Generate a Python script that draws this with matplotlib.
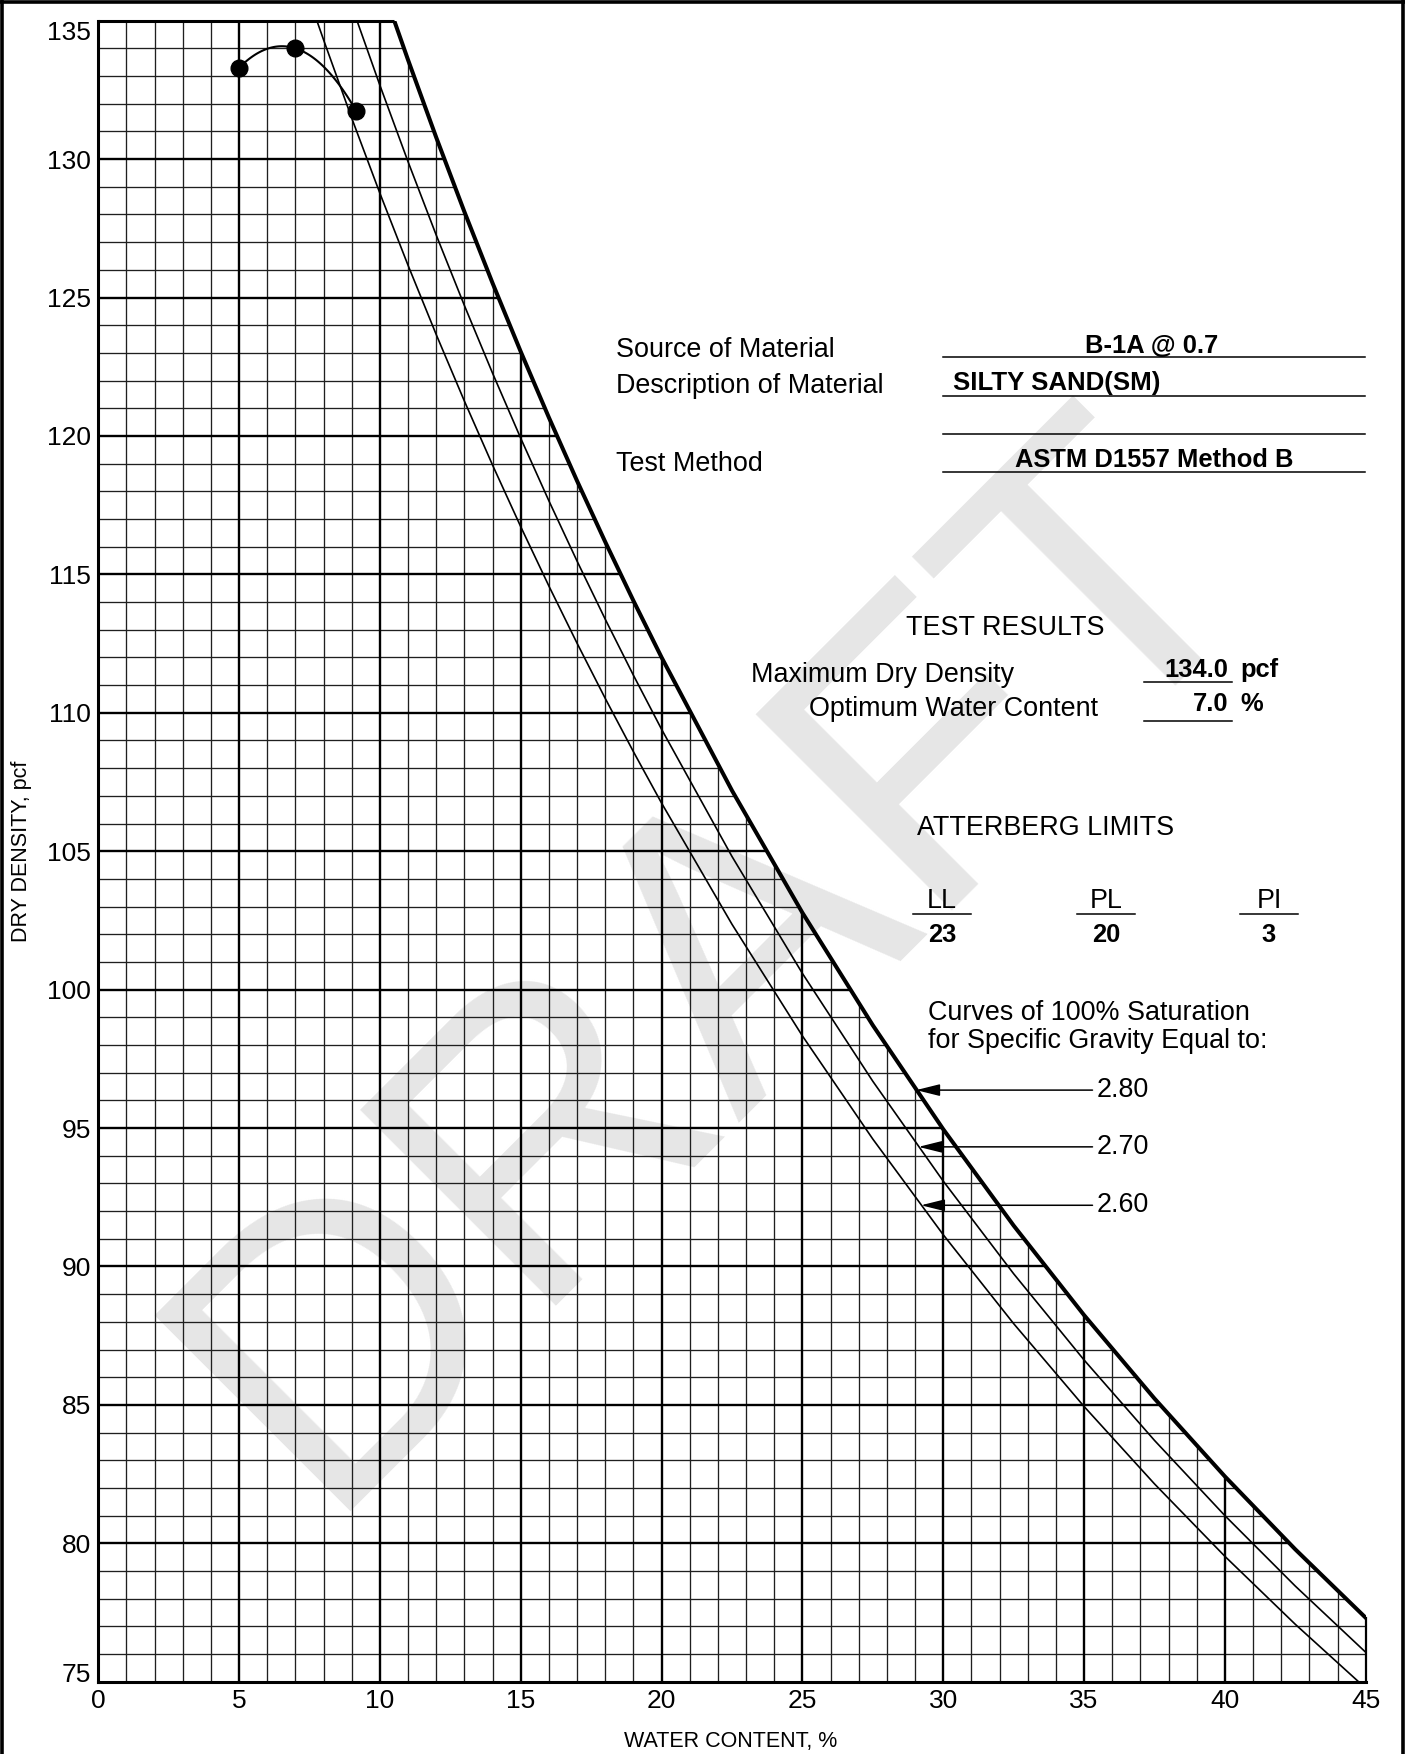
import numpy as np
import matplotlib
matplotlib.use('Agg')
import matplotlib.pyplot as plt
from matplotlib.collections import LineCollection
from matplotlib.patches import Polygon
from matplotlib.lines import Line2D

plt.rcParams['font.family'] = ['Liberation Sans', 'DejaVu Sans']

# ---------------- data ----------------
water_content = [5.0, 7.0, 9.15]          # %
dry_density = [133.3, 134.0, 131.75]      # pcf
specific_gravity = [2.80, 2.70, 2.60]
gs_labels = ['2.80', '2.70', '2.60']
unit_weight_water = 62.4                  # pcf
zav_water = [8, 9, 10, 11, 12, 13, 14, 15, 16, 17, 18, 19, 20,
             22.5, 25, 27.5, 30, 32.5, 35, 37.5, 40, 42.5, 45]
x_ticks = [0, 5, 10, 15, 20, 25, 30, 35, 40, 45]
y_ticks = [75, 80, 85, 90, 95, 100, 105, 110, 115, 120, 125, 130, 135]
source_text = 'B-1A @ 0.7'
description_text = 'SILTY SAND(SM)'
method_text = 'ASTM D1557 Method B'
max_dry_density = '134.0'
optimum_water = '7.0'
atterberg_names = ['LL', 'PL', 'PI']
atterberg_values = ['23', '20', '3']

XMIN, XMAX, YMIN, YMAX = 0, 45, 75, 135

W, H = 1405, 1754
def fx(px):
    return px / W
def fy(py):
    return 1 - py / H

fig = plt.figure(figsize=(W / 100, H / 100), dpi=100)
ax = fig.add_axes([fx(98.3), fy(1681.7), (1365.7 - 98.3) / W, (1681.7 - 20.7) / H])
ax.set_xlim(XMIN, XMAX)
ax.set_ylim(YMIN, YMAX)


def zav(gs, w_pct):
    w = np.asarray(w_pct, dtype=float) / 100.0
    return gs * unit_weight_water / (1 + w * gs)


def zav_top(gs):
    return (gs * unit_weight_water / YMAX - 1) / gs * 100.0


def zav_curve(gs):
    wt = zav_top(gs)
    ws = [wt] + [w for w in zav_water if w > wt]
    return np.array(ws), zav(gs, ws)

# grid clipped to the region under the 2.80 curve
w28, d28 = zav_curve(specific_gravity[0])
verts = [(XMIN, YMIN), (XMAX, YMIN)] + list(zip(w28[::-1], d28[::-1])) + [(XMIN, YMAX)]
clip_poly = Polygon(verts, closed=True, transform=ax.transData, facecolor='none', edgecolor='none')
ax.add_patch(clip_poly)

minor_segs, major_segs = [], []
for x in range(XMIN + 1, XMAX):
    seg = [(x, YMIN), (x, YMAX)]
    (major_segs if x % 5 == 0 else minor_segs).append(seg)
for y in range(YMIN + 1, YMAX):
    seg = [(XMIN, y), (XMAX, y)]
    (major_segs if y % 5 == 0 else minor_segs).append(seg)

lc_minor = LineCollection(minor_segs, colors='#1f1f1f', linewidths=0.95, zorder=1.5)
lc_major = LineCollection(major_segs, colors='black', linewidths=1.7, zorder=1.6)
for lc in (lc_minor, lc_major):
    lc.set_clip_path(clip_poly)
    ax.add_collection(lc)

# boundary lines
ax.plot([XMIN, w28[0]], [YMAX, YMAX], color='black', lw=2.2, solid_capstyle='butt', zorder=3, clip_on=False)
ax.plot([XMAX, XMAX], [YMIN, zav(specific_gravity[0], XMAX)], color='black', lw=1.6, zorder=3, clip_on=False)

# saturation curves
for i, gs in enumerate(specific_gravity):
    ws, ds = zav_curve(gs)
    ax.plot(ws, ds, color='black', lw=2.9 if i == 0 else 1.2, zorder=3,
            solid_joinstyle='miter')

# compaction curve
coef = np.polyfit(water_content, dry_density, 2)
xs = np.linspace(min(water_content), max(water_content), 100)
ax.plot(xs, np.polyval(coef, xs), color='black', lw=1.5, zorder=4)
ax.plot(water_content, dry_density, 'o', color='black', ms=12, zorder=5)

# arrows to saturation curves
label_y = [96.37, 94.32, 92.21]
for gs, lab, yy in zip(specific_gravity, gs_labels, label_y):
    tip = (gs * unit_weight_water / yy - 1) / gs * 100.0
    ax.annotate('', xy=(tip, yy), xytext=(35.3, yy),
                arrowprops=dict(arrowstyle='-|>,head_length=1.45,head_width=0.36',
                                color='black', lw=1.1, shrinkA=0, shrinkB=0),
                zorder=6, annotation_clip=False)
    ax.text(35.45, yy, lab, fontsize=19.4, ha='left', va='center', zorder=6)

# axes styling
for s in ('top', 'right'):
    ax.spines[s].set_visible(False)
for s in ('left', 'bottom'):
    ax.spines[s].set_linewidth(2.2)
    ax.spines[s].set_zorder(3)
ax.set_xticks(x_ticks)
ax.set_yticks(y_ticks)
ax.set_xticklabels([str(v) for v in x_ticks])
ax.set_yticklabels([str(v) for v in y_ticks])
ax.tick_params(axis='both', length=0, labelsize=19)
ax.tick_params(axis='x', pad=5.0)
ax.tick_params(axis='y', pad=5.0)
ylabs = ax.get_yticklabels()
ylabs[0].set_va('baseline')
ylabs[-1].set_va('top')

# watermark
ax.text(fx(719), fy(963), 'DRAFT', transform=fig.transFigure, fontsize=290,
        color='#e6e6e6', rotation=45, ha='center', va='center',
        rotation_mode='anchor', zorder=0, clip_on=False)

# axis titles
fig.text(fx(731), fy(1742), 'WATER CONTENT, %', fontsize=15.5, ha='center', va='center')
fig.text(fx(22), fy(851), 'DRY DENSITY, pcf', fontsize=15.5, ha='center', va='center', rotation=90)

# info panel
def T(px, py, s, size=19.4, weight='normal', ha='left'):
    fig.text(fx(px), fy(py), s, fontsize=size, fontweight=weight, ha=ha, va='baseline')

def HL(x0, x1, py, lw=1.1):
    fig.add_artist(Line2D([fx(x0), fx(x1)], [fy(py), fy(py)], color='black', lw=lw,
                          transform=fig.transFigure))

T(616, 357, 'Source of Material')
T(616, 393, 'Description of Material')
T(616, 471, 'Test Method')
for py in (357, 396, 434, 472):
    HL(943, 1365, py)
T(1152, 353, source_text, size=18.4, weight='bold', ha='center')
T(953, 390, description_text, size=18.6, weight='bold')
T(1154, 467, method_text, size=18.4, weight='bold', ha='center')

T(1005, 635, 'TEST RESULTS', ha='center')
T(751, 682, 'Maximum Dry Density')
T(809, 716, 'Optimum Water Content')
T(1228, 677, max_dry_density, size=18.4, weight='bold', ha='right')
T(1240, 677, 'pcf', size=18.4, weight='bold')
T(1228, 711, optimum_water, size=18.4, weight='bold', ha='right')
T(1240, 711, '%', size=18.4, weight='bold')
HL(1144, 1232, 682)
HL(1144, 1232, 721)

T(1046, 835, 'ATTERBERG LIMITS', ha='center')
for cx, nm, val in zip((942, 1106, 1269), atterberg_names, atterberg_values):
    T(cx, 908, nm, ha='center')
    HL(cx - 29, cx + 29, 914)
    T(cx, 942, val, size=18.4, weight='bold', ha='center')

T(928, 1020, 'Curves of 100% Saturation')
T(928, 1048, 'for Specific Gravity Equal to:')

# outer frame (top, left, right)
for xs_, ys_ in (([0, 1405], [1.5, 1.5]), ([1.5, 1.5], [0, 1754]), ([1403, 1403], [0, 1754])):
    fig.add_artist(Line2D([fx(v) for v in xs_], [fy(v) for v in ys_], color='black', lw=2.6,
                          transform=fig.transFigure))

fig.savefig('out.png', dpi=100)
